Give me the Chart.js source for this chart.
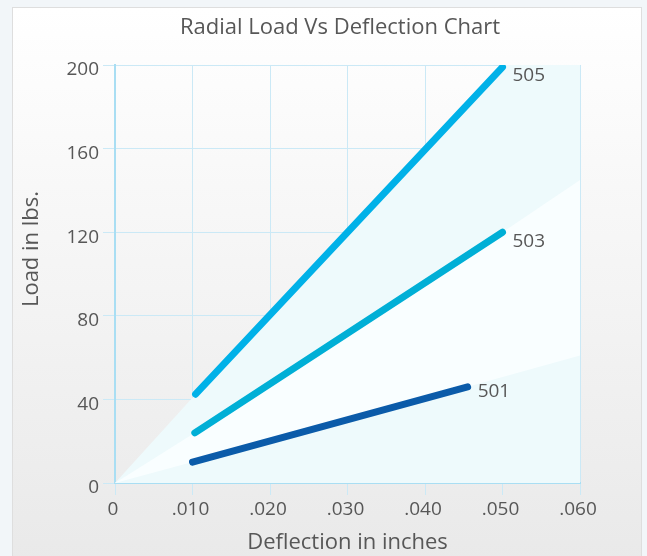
<!DOCTYPE html>
<html>
<head>
<meta charset="utf-8">
<script src="https://cdn.jsdelivr.net/npm/chart.js@4.4.0/dist/chart.umd.min.js"></script>
<style>
  html, body { margin: 0; padding: 0; }
  body { width: 647px; height: 556px; background: #f2f6f9; position: relative; overflow: hidden; }
  .card {
    position: absolute; left: 12px; top: 7px; width: 628px; height: 560px;
    border: 1px solid #dedede; background: linear-gradient(#ffffff, #e9e9e9);
  }
  #chart { position: absolute; left: 0; top: 0; }
</style>
</head>
<body>
<div class="card"></div>
<canvas id="chart" width="647" height="556"></canvas>
<script>
// tick values
const xTicks = [0, 0.01, 0.02, 0.03, 0.04, 0.05, 0.06];
const yTicks = [0, 40, 80, 120, 160, 200];

// series (deflection in inches, load in lbs.)
const seriesNames = ["505", "503", "501"];
const s505X = [0.0104, 0.050];
const s505Y = [42.5, 199];
const s503X = [0.0103, 0.050];
const s503Y = [24, 120];
const s501X = [0.0100, 0.0455];
const s501Y = [10, 46];

// background fan shading
const bandX = [0, 0.0104, 0.050, 0.050, 0.060];
const bandY = [0, 42.5, 199, 200, 200];
const wedgeTopX = [0, 0.0103, 0.050, 0.060];
const wedgeTopY = [0, 24, 120, 145];
const wedgeBotX = [0, 0.0100, 0.0455, 0.060];
const wedgeBotY = [0, 10, 46, 61];

const chartTitle = "Radial Load Vs Deflection Chart";
const yTitle = "Load in lbs.";
const xTitle = "Deflection in inches";

const pts = (xs, ys) => xs.map((x, i) => ({ x, y: ys[i] }));
const textColor = "#575757";
const gridColor = "#cbe9f6";
const axisColor = "#a9def3";
const fontFamily = "Open Sans";

// series names at line ends + chart/y titles
const labelsPlugin = {
  id: "labelsPlugin",
  afterDatasetsDraw(chart) {
    const ctx = chart.ctx;
    ctx.save();
    ctx.fillStyle = textColor;
    ctx.textBaseline = "middle";
    ctx.font = `19px "${fontFamily}"`;
    chart.data.datasets.forEach((ds, i) => {
      if (!ds.endLabel) return;
      const data = chart.getDatasetMeta(i).data;
      const p = data[data.length - 1];
      ctx.fillText(ds.endLabel, p.x + 10, p.y + ds.labelDy);
    });

    ctx.font = `22px "${fontFamily}"`;
    ctx.textAlign = "center";
    ctx.fillText(chartTitle, 340, 28);

    ctx.translate(32, 249);
    ctx.rotate(-Math.PI / 2);
    ctx.fillText(yTitle, 0, 0);
    ctx.restore();
  }
};

const line = (name, xs, ys, color, labelDy) => ({
  label: name, endLabel: name, labelDy, data: pts(xs, ys),
  borderColor: color, borderWidth: 7, borderCapStyle: "round",
  pointRadius: 0, fill: false, order: 1
});

const area = (xs, ys, color, order) => ({
  data: pts(xs, ys), borderWidth: 0, borderColor: "transparent",
  backgroundColor: color, pointRadius: 0, fill: "origin", order
});

new Chart(document.getElementById("chart"), {
  type: "line",
  data: {
    datasets: [
      line(seriesNames[0], s505X, s505Y, "#00b1e8", 9),
      line(seriesNames[1], s503X, s503Y, "#00afd6", 9),
      line(seriesNames[2], s501X, s501Y, "#0b5ba9", 5),
      area(wedgeBotX, wedgeBotY, "#eefafc", 8),
      area(wedgeTopX, wedgeTopY, "#f9feff", 9),
      area(bandX, bandY, "#eefafc", 10)
    ]
  },
  plugins: [labelsPlugin],
  options: {
    responsive: false,
    animation: false,
    devicePixelRatio: 1,
    layout: { padding: { left: 0, right: 67, top: 65, bottom: 0 } },
    plugins: {
      legend: { display: false },
      tooltip: { enabled: false },
      title: { display: false }
    },
    scales: {
      x: {
        type: "linear", min: 0, max: 0.06,
        afterBuildTicks: s => { s.ticks = xTicks.map(v => ({ value: v })); },
        afterFit: s => { s.height = 73; },
        ticks: {
          color: textColor, padding: 3, maxRotation: 0, labelOffset: -2,
          font: { family: fontFamily, size: 19 },
          callback: v => v === 0 ? "0" : v.toFixed(3).replace(/^0/, "")
        },
        grid: { color: gridColor, tickLength: 12, lineWidth: 1 },
        border: { color: axisColor, width: 2 },
        title: {
          display: true, text: xTitle, color: textColor,
          font: { family: fontFamily, size: 22 }, padding: { top: 0, bottom: 0 }
        }
      },
      y: {
        type: "linear", min: 0, max: 200,
        afterBuildTicks: s => { s.ticks = yTicks.map(v => ({ value: v })); },
        afterFit: s => { s.width = 115; },
        ticks: {
          color: textColor, padding: 4, labelOffset: 5,
          font: { family: fontFamily, size: 19 }
        },
        grid: { color: gridColor, tickLength: 12, lineWidth: 1 },
        border: { color: axisColor, width: 2 }
      }
    }
  }
});
</script>
</body>
</html>
